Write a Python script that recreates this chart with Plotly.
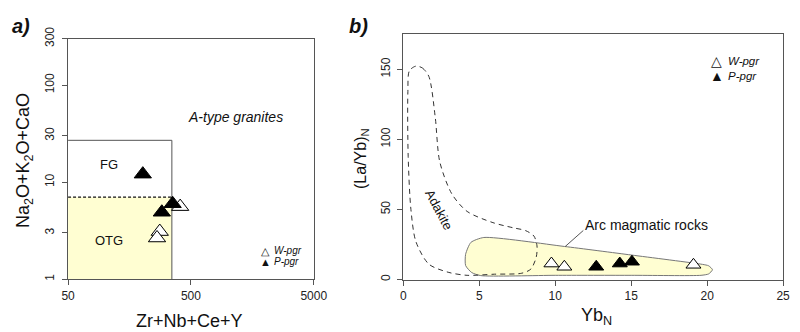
import numpy as np
import plotly.graph_objects as go

# ---------------- data: panel a (Whalen diagram) ----------------
a_w_x = [409, 279, 265]          # Zr+Nb+Ce+Y, W-pgr
a_w_y = [5.6, 3.1, 2.66]         # Na2O+K2O+CaO
a_p_x = [203, 355, 290]          # P-pgr
a_p_y = [12.1, 6.0, 4.9]

fg_box_x = [50, 350, 350]        # FG field outline
fg_box_y = [27, 27, 1]
otg_x = [50, 350, 350, 50, 50]   # OTG field (filled)
otg_y = [1, 1, 7, 7, 1]
otg_top_x = [50, 350]
otg_top_y = [7, 7]
a_xticks = [50, 500, 5000]
a_yticks = [1, 3, 10, 30, 100, 300]

# ---------------- data: panel b (La/Yb)N vs YbN ----------------
b_w_x = [9.75, 10.6, 19.1]
b_w_y = [11.4, 9.1, 10.5]
b_p_x = [12.7, 14.25, 15.05]
b_p_y = [9.1, 11.4, 12.7]

adakite_x = [0.83, 1.25, 1.68, 2.1, 2.4, 3.2, 4.2, 5.9, 7.2, 8.05, 8.6, 8.8, 8.75, 8.4, 7.8,
             6.0, 4.2, 2.95, 1.68, 0.83, 0.5, 0.32, 0.3, 0.4, 0.83]
adakite_y = [152.3, 151, 145, 116, 84, 61, 48.6, 40.6, 37, 34.9, 31, 24, 16, 7.5, 4.5,
             3.8, 3.0, 5.2, 11, 27, 50, 88, 134, 149, 152.3]

arc_x = [5.3, 10.6, 15.0, 19.7, 20.1, 20.35, 20.1, 19.6, 15.0, 10.0, 5.1, 4.5, 4.1, 4.1, 4.45, 5.3]
arc_y = [30.0, 23.6, 17.5, 10.8, 9.8, 7.0, 4.0, 3.0, 3.0, 3.0, 2.8, 5.0, 10.0, 18.0, 26.5, 30.0]
arc_leader_x = [11.85, 10.65]
arc_leader_y = [35.0, 23.5]
b_xticks = [0, 5, 10, 15, 20, 25]
b_yticks = [0, 50, 100, 150]

AX = '#555555'
YELLOW = '#FFFED2'

fig = go.Figure()

# ---- panel a ----
fig.add_trace(go.Scatter(x=otg_x, y=otg_y, mode='lines', fill='toself', fillcolor=YELLOW,
                         line=dict(color='rgba(0,0,0,0)', width=0), xaxis='x', yaxis='y',
                         hoverinfo='skip', showlegend=False))
fig.add_trace(go.Scatter(x=fg_box_x, y=fg_box_y, mode='lines', line=dict(color=AX, width=1),
                         xaxis='x', yaxis='y', showlegend=False, hoverinfo='skip'))
fig.add_trace(go.Scatter(x=otg_top_x, y=otg_top_y, mode='lines',
                         line=dict(color='#111111', width=1.3, dash='3px,2px'),
                         xaxis='x', yaxis='y', showlegend=False, hoverinfo='skip'))
fig.add_trace(go.Scatter(x=a_w_x, y=a_w_y, mode='markers', xaxis='x', yaxis='y',
                         marker=dict(symbol='triangle-up', size=15, color='white',
                                     line=dict(color='black', width=1)), showlegend=False))
fig.add_trace(go.Scatter(x=a_p_x, y=a_p_y, mode='markers', xaxis='x', yaxis='y',
                         marker=dict(symbol='triangle-up', size=15, color='black',
                                     line=dict(color='black', width=1)), showlegend=False))

# ---- panel b ----
fig.add_trace(go.Scatter(x=arc_x, y=arc_y, mode='lines', fill='toself', fillcolor=YELLOW,
                         line=dict(color='#777777', width=1, shape='spline', smoothing=0.6),
                         xaxis='x2', yaxis='y2', showlegend=False, hoverinfo='skip'))
fig.add_trace(go.Scatter(x=adakite_x, y=adakite_y, mode='lines',
                         line=dict(color='#333333', width=1, dash='5px,4px', shape='spline', smoothing=0.8),
                         xaxis='x2', yaxis='y2', showlegend=False, hoverinfo='skip'))
fig.add_trace(go.Scatter(x=arc_leader_x, y=arc_leader_y, mode='lines',
                         line=dict(color='#555555', width=1),
                         xaxis='x2', yaxis='y2', showlegend=False, hoverinfo='skip'))
fig.add_trace(go.Scatter(x=b_w_x, y=b_w_y, mode='markers', xaxis='x2', yaxis='y2',
                         marker=dict(symbol='triangle-up', size=13, color='white',
                                     line=dict(color='black', width=1)), showlegend=False))
fig.add_trace(go.Scatter(x=b_p_x, y=b_p_y, mode='markers', xaxis='x2', yaxis='y2',
                         marker=dict(symbol='triangle-up', size=13, color='black',
                                     line=dict(color='black', width=1)), showlegend=False))

axis_common = dict(showgrid=False, zeroline=False, showline=True, linecolor=AX, linewidth=1,
                   mirror=True, ticks='outside', ticklen=5, tickcolor=AX,
                   tickfont=dict(family='Liberation Sans, Arial', size=12, color='#222222'))

fig.update_layout(
    width=800, height=332, margin=dict(l=0, r=0, t=0, b=0),
    paper_bgcolor='white', plot_bgcolor='white',
    font=dict(family='Liberation Sans, Arial', color='#111111'),
    xaxis=dict(type='log', range=[np.log10(50), np.log10(5000)], domain=[62.7/800, 315/800],
               anchor='y', tickvals=a_xticks, ticktext=[str(v) for v in a_xticks], **axis_common),
    yaxis=dict(type='log', range=[0, np.log10(300)], domain=[53/332, 304/332], anchor='x',
               tickvals=a_yticks, ticktext=[str(v) for v in a_yticks], tickangle=-90,
               ticklabelstandoff=3, **axis_common),
    xaxis2=dict(range=[0, 25], domain=[407/800, 797/800], anchor='y2', tickvals=b_xticks,
                **axis_common),
    yaxis2=dict(range=[0, 175], domain=[52.7/332, 308.7/332], anchor='x2', tickvals=b_yticks,
                tickangle=-90, ticklabelstandoff=3, **axis_common),
)

def pa(x, y, text, size, xanchor='center', **kw):
    fig.add_annotation(x=x/800, y=1-y/332, xref='paper', yref='paper', text=text,
                       xanchor=xanchor, yanchor='middle',
                       showarrow=False, font=dict(size=size, color='#111111'), **kw)

# panel labels and axis titles
pa(3, 15, '<b><i>a)</i></b>', 20, xanchor='left')
pa(349, 15, '<b><i>b)</i></b>', 20, xanchor='left')
pa(187, 323, 'Zr+Nb+Ce+Y', 18)
pa(18, 155, 'Na<sub>2</sub>O+K<sub>2</sub>O+CaO', 18, textangle=-90)
pa(605, 318, 'Yb<sub>N</sub>', 18)
pa(364, 153, '(La/Yb)<sub>N</sub>', 16, textangle=-90)

def da(x, y, text, size, xref, yref, **kw):
    fig.add_annotation(x=x, y=y, xref=xref, yref=yref, text=text, showarrow=False,
                       xanchor='center', yanchor='middle',
                       font=dict(size=size, color='#111111'), **kw)

# in-plot labels panel a (log axes -> log10 positions)
da(np.log10(1164), np.log10(47.5), '<i>A-type granites</i>', 14, 'x', 'y')
da(np.log10(108), np.log10(15.2), 'FG', 13, 'x', 'y')
da(np.log10(108), np.log10(2.5), 'OTG', 13, 'x', 'y')

# in-plot labels panel b
da(16.0, 39.2, 'Arc magmatic rocks', 14, 'x2', 'y2')
da(2.32, 49.7, 'Adakite', 13, 'x2', 'y2', textangle=62)

# legends (symbol + italic text)
pa(265, 249, '\u25b3', 11)
pa(265, 261, '\u25b2', 11)
pa(272, 249, '<i>W-pgr</i>', 10, xanchor='left')
pa(272, 261, '<i>P-pgr</i>', 10, xanchor='left')
pa(729, 51, '\u25b3', 14)
pa(729, 67, '\u25b2', 14)
pa(738, 51, '<i>W-pgr</i>', 11.5, xanchor='left')
pa(738, 67, '<i>P-pgr</i>', 11.5, xanchor='left')

fig.write_html('out.html')
